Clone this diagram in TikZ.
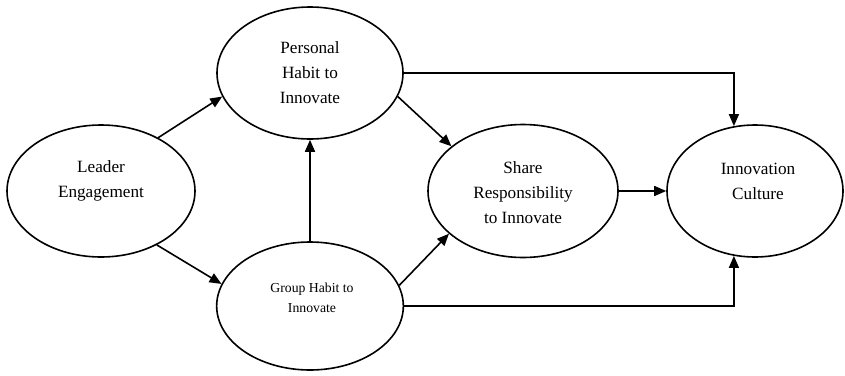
\documentclass[tikz,border=0pt]{standalone}
\usepackage{fontspec}
\setmainfont{Liberation Serif}
\usetikzlibrary{arrows.meta,shapes.geometric}
\begin{document}
\begin{tikzpicture}[x=0.75pt,y=-0.75pt,
  oval/.style={draw=black, line width=1.2pt, ellipse, inner sep=0pt},
  lbl/.style={align=center, inner sep=0pt, font=\fontsize{12.9}{18.75}\selectfont},
  lblsmall/.style={align=center, inner sep=0pt, font=\fontsize{10.3}{15}\selectfont},
  conn/.style={line width=1.2pt, -{Triangle[length=9pt,width=7.5pt]}}]
\useasboundingbox (0,0) rectangle (845,375);
\node[oval, minimum width=141pt, minimum height=99pt] (lead) at (101,191) {};
\node[oval, minimum width=139.5pt, minimum height=99pt] (pers) at (310,73) {};
\node[oval, minimum width=140pt, minimum height=96pt] (grp) at (310,306) {};
\node[oval, minimum width=142.5pt, minimum height=99.75pt] (share) at (523,191) {};
\node[oval, minimum width=132pt, minimum height=99pt] (innov) at (755,191) {};
\node[lbl] (leadt) at (101,181) {Leader\\Engagement};
\node[lbl] (perst) at (310,73) {Personal\\Habit to\\Innovate};
\node[lblsmall] (grpt) at (312,298) {Group Habit to\\Innovate};
\node[lbl] (sharet) at (523,193) {Share\\Responsibility\\to Innovate};
\node[lbl] (innovt) at (758,181) {Innovation\\Culture};
\draw[conn] (lead.43) -- (pers.195);
\draw[conn] (lead.-44) -- (grp.166);
\draw[conn] (grp.north) -- (pers.south);
\draw[conn] (pers.-15.5) -- (share.148.8);
\draw[conn] (grp.13.4) -- (share.210.6);
\draw[conn] (share.east) -- (innov.west);
\draw[conn] (pers.east) -| (innov.108);
\draw[conn] (grp.east) -| (innov.-108);
\end{tikzpicture}
\end{document}
